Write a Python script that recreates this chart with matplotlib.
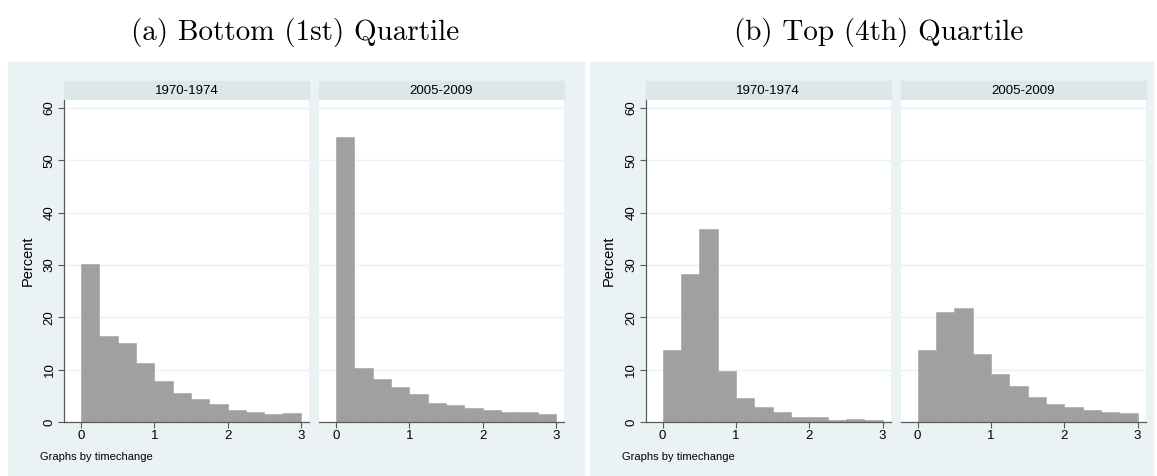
import numpy as np
import matplotlib.pyplot as plt
from matplotlib.patches import Rectangle

W, H = 1157, 476

# histogram bins (timechange) and percent per bin
bin_edges = [0, 0.25, 0.5, 0.75, 1.0, 1.25, 1.5, 1.75, 2.0, 2.25, 2.5, 2.75, 3.0]
periods = ["1970-1974", "2005-2009"]
bottom_1970 = [30.1, 16.5, 15.0, 11.3, 7.9, 5.5, 4.45, 3.4, 2.3, 1.85, 1.6, 1.75]
bottom_2005 = [54.4, 10.4, 8.2, 6.7, 5.3, 3.6, 3.3, 2.6, 2.2, 1.9, 2.0, 1.5]
top_1970 = [13.7, 28.2, 36.8, 9.7, 4.65, 2.9, 2.0, 0.9, 0.9, 0.45, 0.65, 0.45]
top_2005 = [13.7, 21.0, 21.7, 13.0, 9.2, 6.9, 4.7, 3.5, 2.9, 2.2, 1.9, 1.65]
titles = ["(a) Bottom (1st) Quartile", "(b) Top (4th) Quartile"]
x_ticks = [0, 1, 2, 3]
y_ticks = [0, 10, 20, 30, 40, 50, 60]

groups = [[bottom_1970, bottom_2005], [top_1970, top_2005]]

bg_col = "#eaf2f3"
strip_col = "#dce7ec"
bar_col = "#a0a0a0"
axis_col = "#5a5a5a"
sans = "Liberation Sans"


def rect_px(x0, y0, x1, y1):
    # pixel box (top-left origin) -> figure coords
    return [x0 / W, 1 - y1 / H, (x1 - x0) / W, (y1 - y0) / H]


fig = plt.figure(figsize=(W / 100, H / 100), dpi=100)

bg_x = [(8, 584), (590, 1153)]
title_x = [295, 879]
panel_x0 = [[64, 319], [645.7, 900.7]]
pw = 245
top, bot = 100, 422

for g in range(2):
    x0, x1 = bg_x[g]
    fig.patches.append(Rectangle((x0 / W, 0), (x1 - x0) / W, (H - 62) / H,
                                 transform=fig.transFigure, color=bg_col, zorder=-2))
    fig.text(title_x[g] / W, 1 - 40 / H, titles[g], fontfamily="cmr10",
             fontsize=21, ha="center", va="baseline")
    fig.text((x0 + 32) / W, 1 - 457 / H, "Graphs by timechange", fontfamily=sans,
             fontsize=8, ha="left", va="center")

    for k in range(2):
        px0 = panel_x0[g][k]
        # strip header
        fig.patches.append(Rectangle((px0 / W, 1 - 99.5 / H), pw / W, 18.2 / H,
                                     transform=fig.transFigure, color=strip_col, zorder=-1))
        fig.text((px0 + pw / 2) / W, 1 - 90.5 / H, periods[k], fontfamily=sans,
                 fontsize=9.5, ha="center", va="center")

        ax = fig.add_axes(rect_px(px0, top, px0 + pw, bot))
        ax.set_facecolor("white")
        vals = groups[g][k]
        ax.bar(bin_edges[:-1], vals, width=np.diff(bin_edges), align="edge",
               color=bar_col, edgecolor=bar_col, linewidth=0.4, zorder=2)
        ax.set_xlim(-0.23, 3.11)
        ax.set_ylim(0, 61.5)
        ax.set_yticks(y_ticks)
        ax.set_xticks(x_ticks)
        ax.grid(axis="y", color=bg_col, linewidth=1.0, zorder=0)
        ax.set_axisbelow(True)
        for s in ["top", "right"]:
            ax.spines[s].set_visible(False)
        ax.spines["bottom"].set_color(axis_col)
        ax.spines["bottom"].set_linewidth(0.9)
        ax.tick_params(axis="x", colors=axis_col, length=4, width=0.8, pad=1.5,
                       labelsize=9.5, labelcolor="black")
        for lab in ax.get_xticklabels():
            lab.set_fontfamily(sans)
        if k == 0:
            ax.spines["left"].set_color(axis_col)
            ax.spines["left"].set_linewidth(0.9)
            ax.tick_params(axis="y", colors=axis_col, length=4, width=0.8, pad=2,
                           labelsize=9.5, labelcolor="black", labelrotation=90)
            for lab in ax.get_yticklabels():
                lab.set_fontfamily(sans)
                lab.set_verticalalignment("center")
            ax.set_ylabel("Percent", fontfamily=sans, fontsize=10.5)
            ax.yaxis.set_label_coords(-29.5 / pw, 0.5)
        else:
            ax.spines["left"].set_visible(False)
            ax.tick_params(axis="y", left=False, labelleft=False)

fig.savefig("out.png", dpi=100)
